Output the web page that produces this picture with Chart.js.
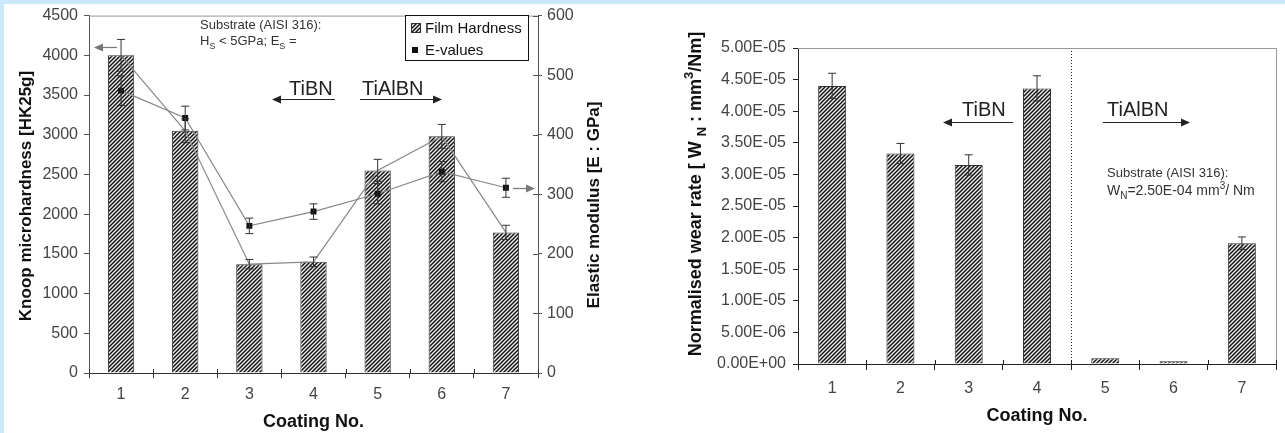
<!DOCTYPE html>
<html>
<head>
<meta charset="utf-8">
<script src="https://cdn.jsdelivr.net/npm/chart.js@4.4.0/dist/chart.umd.min.js"></script>
<style>
  body { margin: 0; background: #fff; }
  #page { position: relative; width: 1285px; height: 433px; overflow: hidden; background: #fff; }
  .band-top { position: absolute; left: 0; top: 0; width: 1285px; height: 4px; background: #cbe9f8; z-index: 5; }
  .band-left { position: absolute; left: 0; top: 0; width: 4px; height: 433px; background: #cbe9f8; z-index: 5; }
  #box1 { position: absolute; left: 0; top: 0; width: 640px; height: 433px; }
  #box2 { position: absolute; left: 640px; top: 0; width: 645px; height: 433px; }
</style>
</head>
<body>
<div id="page">
  <div id="box1"><canvas id="c1" width="640" height="433"></canvas></div>
  <div id="box2"><canvas id="c2" width="645" height="433"></canvas></div>
  <div class="band-top"></div>
  <div class="band-left"></div>
</div>
<script>
const coatings = ["1", "2", "3", "4", "5", "6", "7"];

// left chart: film hardness (HK25g) and E-values (GPa)
const hardness = [4000, 3050, 1370, 1400, 2550, 2980, 1770];
const hardnessErr = [200, 150, 60, 60, 140, 150, 90];
const eValues = [474, 428, 247, 271, 301, 338, 311];
const eErr = [25, 20, 13, 13, 17, 17, 16];
const hkTicks = [0, 500, 1000, 1500, 2000, 2500, 3000, 3500, 4000, 4500];
const eTicks = [0, 100, 200, 300, 400, 500, 600];

// right chart: normalised wear rate
const wearRate = [4.40e-5, 3.33e-5, 3.15e-5, 4.36e-5, 9.0e-7, 4.5e-7, 1.91e-5];
const wearErr = [2.0e-6, 1.6e-6, 1.6e-6, 2.0e-6, 0, 0, 1.0e-6];
const wearTicks = [0, 5e-6, 1e-5, 1.5e-5, 2e-5, 2.5e-5, 3e-5, 3.5e-5, 4e-5, 4.5e-5, 5e-5];

Chart.defaults.font.family = "'Liberation Sans', Arial, sans-serif";
Chart.defaults.color = "#444";
Chart.defaults.animation = false;

const FONT = "'Liberation Sans', Arial, sans-serif";

function hatchPattern(ctx) {
  const c = document.createElement("canvas");
  c.width = 4; c.height = 4;
  const g = c.getContext("2d");
  g.fillStyle = "#f0f0f0";
  g.fillRect(0, 0, 4, 4);
  g.strokeStyle = "#151515";
  g.lineWidth = 1.5;
  g.beginPath();
  g.moveTo(0, 4); g.lineTo(4, 0);
  g.moveTo(-1, 1); g.lineTo(1, -1);
  g.moveTo(3, 5); g.lineTo(5, 3);
  g.stroke();
  return ctx.createPattern(c, "repeat");
}

function sci(v) {
  if (Math.abs(v) < 1e-12) return "0.00E+00";
  const [m, e] = v.toExponential(2).split("e");
  const n = parseInt(e, 10);
  return m + "E" + (n < 0 ? "-" : "+") + String(Math.abs(n)).padStart(2, "0");
}

// text with sub / superscripts
function richText(ctx, parts, x, y, size, weight, color, align) {
  const fontFor = p => weight + " " + ((p.sub || p.sup) ? Math.round(size * 0.7) : size) + "px " + FONT;
  let w = 0;
  parts.forEach(p => { ctx.font = fontFor(p); w += ctx.measureText(p.t).width; });
  let cx = align === "center" ? x - w / 2 : x;
  ctx.fillStyle = color;
  ctx.textAlign = "left";
  ctx.textBaseline = "alphabetic";
  parts.forEach(p => {
    ctx.font = fontFor(p);
    const dy = p.sub ? size * 0.28 : p.sup ? -size * 0.42 : 0;
    ctx.fillText(p.t, cx, y + dy);
    cx += ctx.measureText(p.t).width;
  });
}

function vText(ctx, parts, x, yCenter, size) {
  ctx.save();
  ctx.translate(x, yCenter);
  ctx.rotate(-Math.PI / 2);
  richText(ctx, parts, 0, 0, size, "bold", "#111", "center");
  ctx.restore();
}

function arrow(ctx, x1, x2, y, color) {
  const dir = x2 > x1 ? 1 : -1;
  ctx.save();
  ctx.strokeStyle = color;
  ctx.fillStyle = color;
  ctx.lineWidth = 1.2;
  ctx.beginPath();
  ctx.moveTo(x1, y); ctx.lineTo(x2 - dir * 6, y);
  ctx.stroke();
  ctx.beginPath();
  ctx.moveTo(x2, y); ctx.lineTo(x2 - dir * 9, y - 4); ctx.lineTo(x2 - dir * 9, y + 4);
  ctx.closePath();
  ctx.fill();
  ctx.restore();
}

const errorBars = {
  id: "errorBars",
  afterDatasetsDraw(chart) {
    const ctx = chart.ctx;
    chart.data.datasets.forEach((ds, i) => {
      if (!ds.errors) return;
      const meta = chart.getDatasetMeta(i);
      const ys = chart.scales[meta.yAxisID];
      meta.data.forEach((el, j) => {
        const e = ds.errors[j];
        if (!e) return;
        const top = ys.getPixelForValue(ds.data[j] + e);
        const bot = ys.getPixelForValue(ds.data[j] - e);
        ctx.save();
        ctx.strokeStyle = "#333";
        ctx.lineWidth = 1;
        ctx.beginPath();
        ctx.moveTo(el.x, top); ctx.lineTo(el.x, bot);
        ctx.moveTo(el.x - 4, top); ctx.lineTo(el.x + 4, top);
        ctx.moveTo(el.x - 4, bot); ctx.lineTo(el.x + 4, bot);
        ctx.stroke();
        ctx.restore();
      });
    });
  }
};

// short ticks on the inner side of the category axis (ticks cross the axis)
function innerTicks(chart, color) {
  const ctx = chart.ctx, a = chart.chartArea;
  const n = chart.data.labels.length;
  ctx.save();
  ctx.strokeStyle = color;
  ctx.lineWidth = 1;
  ctx.beginPath();
  for (let k = 0; k <= n; k++) {
    const x = Math.round(a.left + k * (a.right - a.left) / n) + 0.5;
    ctx.moveTo(x, a.bottom - 4); ctx.lineTo(x, a.bottom);
  }
  ctx.stroke();
  ctx.restore();
}

const leftDecor = {
  id: "leftDecor",
  afterDraw(chart) {
    const ctx = chart.ctx, a = chart.chartArea;
    ctx.save();
    // top frame line
    ctx.strokeStyle = "#999";
    ctx.lineWidth = 1;
    ctx.beginPath();
    ctx.moveTo(a.left, a.top + 0.5); ctx.lineTo(a.right, a.top + 0.5);
    ctx.stroke();
    innerTicks(chart, "#333");
    // inner ticks of the E axis
    const y2 = chart.scales.y2;
    ctx.strokeStyle = "#555";
    ctx.beginPath();
    eTicks.forEach(v => {
      const y = Math.round(y2.getPixelForValue(v)) + 0.5;
      ctx.moveTo(a.right - 5, y); ctx.lineTo(a.right, y);
    });
    ctx.stroke();

    // axis titles
    vText(ctx, [{ t: "Knoop microhardness [HK25g]" }], 31, 196, 17);
    vText(ctx, [{ t: "Elastic modulus [E : GPa]" }], 599, 205, 17);
    richText(ctx, [{ t: "Coating No." }], (a.left + a.right) / 2, 427, 18, "bold", "#111", "center");

    // substrate note
    richText(ctx, [{ t: "Substrate (AISI 316):" }], 200, 29, 13, "normal", "#333", "left");
    richText(ctx, [{ t: "H" }, { t: "S", sub: true }, { t: " < 5GPa; E" }, { t: "S", sub: true }, { t: " =" }], 200, 45, 13, "normal", "#333", "left");

    // TiBN / TiAlBN
    richText(ctx, [{ t: "TiBN" }], 289, 95, 20, "normal", "#222", "left");
    arrow(ctx, 335, 272, 99.5, "#222");
    richText(ctx, [{ t: "TiAlBN" }], 362, 95, 20, "normal", "#222", "left");
    arrow(ctx, 360, 442, 99.5, "#222");

    // axis pointers
    arrow(ctx, 117, 94, 47.5, "#777");
    arrow(ctx, 513, 535, 188.5, "#777");

    // legend
    ctx.fillStyle = "#fff";
    ctx.fillRect(405.5, 15.5, 123, 45);
    ctx.strokeStyle = "#111";
    ctx.lineWidth = 1;
    ctx.strokeRect(405.5, 15.5, 123, 45);
    ctx.fillStyle = chart.data.datasets[2].backgroundColor;
    ctx.fillRect(411, 23, 10, 10);
    ctx.strokeStyle = "#333";
    ctx.strokeRect(411.5, 23.5, 9, 9);
    ctx.fillStyle = "#111";
    ctx.fillRect(412, 47, 6, 6);
    richText(ctx, [{ t: "Film Hardness" }], 425, 33, 15, "normal", "#111", "left");
    richText(ctx, [{ t: "E-values" }], 425, 55, 15, "normal", "#111", "left");
    ctx.restore();
  }
};

const rightDecor = {
  id: "rightDecor",
  beforeDatasetsDraw(chart) {
    const ctx = chart.ctx, a = chart.chartArea, xs = chart.scales.x;
    // dotted separator between TiBN and TiAlBN coatings
    const xSep = Math.round((xs.getPixelForValue(3) + xs.getPixelForValue(4)) / 2) + 0.5;
    ctx.save();
    ctx.strokeStyle = "#222";
    ctx.lineWidth = 1;
    ctx.setLineDash([1, 2]);
    ctx.beginPath();
    ctx.moveTo(xSep, a.top); ctx.lineTo(xSep, a.bottom);
    ctx.stroke();
    ctx.restore();
  },
  afterDraw(chart) {
    const ctx = chart.ctx, a = chart.chartArea;
    ctx.save();
    ctx.strokeStyle = "#999";
    ctx.lineWidth = 1;
    ctx.beginPath();
    ctx.moveTo(a.left, a.top + 0.5); ctx.lineTo(a.right + 0.5, a.top + 0.5);
    ctx.lineTo(a.right + 0.5, a.bottom);
    ctx.stroke();
    innerTicks(chart, "#222");

    vText(ctx, [{ t: "Normalised wear rate [ W " }, { t: "N", sub: true }, { t: " : mm" }, { t: "3", sup: true }, { t: "/Nm]" }], 61, 194, 18);
    richText(ctx, [{ t: "Coating No." }], (a.left + a.right) / 2, 421, 18, "bold", "#111", "center");

    richText(ctx, [{ t: "TiBN" }], 322, 116, 20, "normal", "#222", "left");
    arrow(ctx, 373, 303, 122.5, "#222");
    richText(ctx, [{ t: "TiAlBN" }], 467, 116, 20, "normal", "#222", "left");
    arrow(ctx, 463, 550, 122.5, "#222");

    richText(ctx, [{ t: "Substrate (AISI 316):" }], 467, 177, 13, "normal", "#333", "left");
    richText(ctx, [{ t: "W" }, { t: "N", sub: true }, { t: "=2.50E-04 mm" }, { t: "3", sup: true }, { t: "/ Nm" }], 467, 195, 14, "normal", "#333", "left");
    ctx.restore();
  }
};

const c1 = document.getElementById("c1");
const c2 = document.getElementById("c2");
const hatch1 = hatchPattern(c1.getContext("2d"));
const hatch2 = hatchPattern(c2.getContext("2d"));

new Chart(c1, {
  type: "bar",
  data: {
    labels: coatings,
    datasets: [
      {
        type: "line", label: "E-values", data: eValues, errors: eErr, yAxisID: "y2",
        borderColor: "#888", borderWidth: 1.2, pointStyle: "rect", pointRadius: 4.2,
        pointBackgroundColor: "#111", pointBorderColor: "#111", pointBorderWidth: 0, order: 0
      },
      {
        type: "line", label: "Hardness trend", data: hardness, yAxisID: "y",
        borderColor: "#888", borderWidth: 1.2, pointRadius: 0, order: 1
      },
      {
        label: "Film Hardness", data: hardness, errors: hardnessErr, yAxisID: "y",
        backgroundColor: hatch1, borderColor: "#333", borderWidth: 1,
        barPercentage: 0.41, categoryPercentage: 1, order: 2
      }
    ]
  },
  options: {
    responsive: false,
    devicePixelRatio: 1,
    layout: { padding: { top: 14, left: 0, right: 0, bottom: 0 } },
    plugins: { legend: { display: false }, tooltip: { enabled: false } },
    scales: {
      x: {
        offset: true,
        grid: { drawOnChartArea: false, offset: true, tickLength: 5, color: "#333" },
        border: { color: "#333", width: 1 },
        ticks: { font: { size: 16 }, padding: 7, color: "#444" },
        afterFit(s) { s.height = 60; }
      },
      y: {
        position: "left", min: 0, max: 4500,
        afterBuildTicks(s) { s.ticks = hkTicks.map(v => ({ value: v })); },
        grid: { drawOnChartArea: false, tickLength: 5, color: "#555" },
        border: { color: "#555" },
        ticks: { font: { size: 16 }, padding: 6, color: "#444", callback: v => String(v) },
        afterFit(s) { s.width = 89; }
      },
      y2: {
        position: "right", min: 0, max: 600,
        afterBuildTicks(s) { s.ticks = eTicks.map(v => ({ value: v })); },
        grid: { drawOnChartArea: false, tickLength: 4, color: "#555" },
        border: { color: "#555" },
        ticks: { font: { size: 16 }, padding: 5, color: "#444", callback: v => String(v) },
        afterFit(s) { s.width = 102; }
      }
    }
  },
  plugins: [errorBars, leftDecor]
});

new Chart(c2, {
  type: "bar",
  data: {
    labels: coatings,
    datasets: [{
      label: "Wear rate", data: wearRate, errors: wearErr,
      backgroundColor: hatch2, borderColor: "#333", borderWidth: 1,
      barPercentage: 0.41, categoryPercentage: 1
    }]
  },
  options: {
    responsive: false,
    devicePixelRatio: 1,
    layout: { padding: { top: 48, left: 0, right: 9, bottom: 0 } },
    plugins: { legend: { display: false }, tooltip: { enabled: false } },
    scales: {
      x: {
        offset: true,
        grid: { drawOnChartArea: false, offset: true, tickLength: 6, color: "#222" },
        border: { color: "#222", width: 1 },
        ticks: { font: { size: 16 }, padding: 9, color: "#444" },
        afterFit(s) { s.height = 69; }
      },
      y: {
        min: 0, max: 5e-5,
        afterBuildTicks(s) { s.ticks = wearTicks.map(v => ({ value: v })); },
        grid: { drawOnChartArea: false, tickLength: 5, color: "#222" },
        border: { color: "#222" },
        ticks: { font: { size: 16 }, padding: 7, color: "#444", callback: v => sci(v) },
        afterFit(s) { s.width = 158; }
      }
    }
  },
  plugins: [errorBars, rightDecor]
});
</script>
</body>
</html>
